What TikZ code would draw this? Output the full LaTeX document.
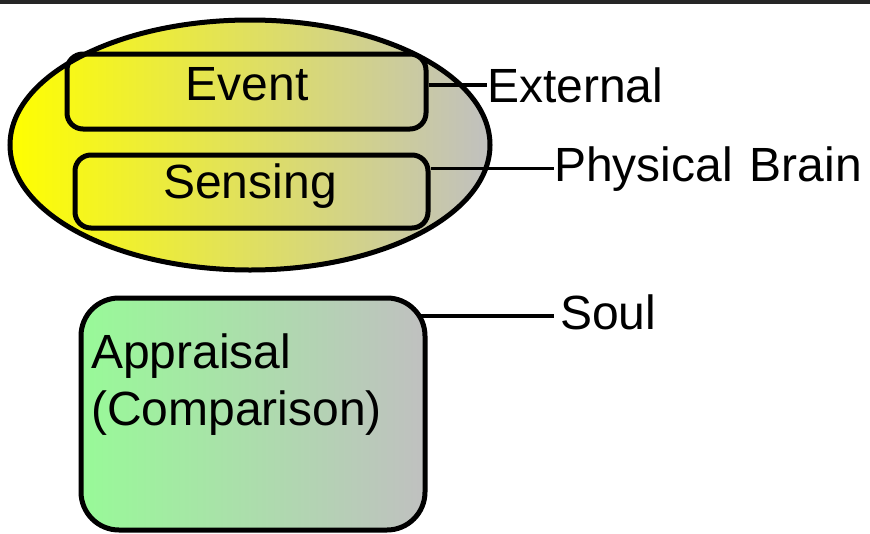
\documentclass[tikz,border=0pt]{standalone}
\usepackage{fontspec}
\setmainfont{Liberation Sans}
\usetikzlibrary{shapes.geometric,backgrounds}
\definecolor{grisclair}{RGB}{192,192,192}
\definecolor{vertclair}{RGB}{152,250,152}

\begin{document}
\begin{tikzpicture}[x=1pt,y=-1pt]
\tikzstyle{texte}=[inner sep=0pt, font=\fontsize{48}{57}\selectfont]
\tikzstyle{boite}=[rectangle, draw, line width=5pt, inner sep=0pt, rounded corners=16pt]
\tikzstyle{lien}=[line width=3.5pt]
\useasboundingbox (0,0) rectangle (870,533);
\draw[line width=3.5pt, black!85] (0,2) -- (870,2);
% le cerveau
\node[ellipse, draw, line width=5pt, inner sep=0pt, left color=yellow, right color=grisclair,
  minimum width=480pt, minimum height=250pt] (cerveau) at (250,145) {};
\node[boite, minimum width=359pt, minimum height=75pt] (event) at (246.5,91.5) {};
\node[boite, minimum width=353pt, minimum height=73pt] (sensing) at (251.5,191.5) {};
\node[texte, anchor=base] (eventtxt) at (247,100) {Event};
\node[texte, anchor=base] (sensingtxt) at (250,198) {Sensing};
% l'ame
\node[boite, rounded corners=38pt, left color=vertclair, right color=grisclair,
  minimum width=344pt, minimum height=232pt] (appraisal) at (253,414) {};
\node[texte, anchor=north west, align=left] (appraisaltxt) at (91,334) {Appraisal\\(Comparison)};
% etiquettes
\node[texte, anchor=base west] (external) at (487,102) {External};
\node[texte, anchor=base west] (physique) at (554,181) {Physical\hspace{0.35em}Brain};
\node[texte, anchor=base west] (soul) at (560,329) {Soul};
\draw[lien] (event.east |- external.west) -- (external.west);
\draw[lien] (sensing.east |- physique.west) -- (physique.west);
\begin{scope}[on background layer]
\draw[lien] (appraisal.center |- soul.west) ++(0,4) -- ([yshift=-4pt,xshift=-6pt]soul.west);
\end{scope}
\end{tikzpicture}
\end{document}
